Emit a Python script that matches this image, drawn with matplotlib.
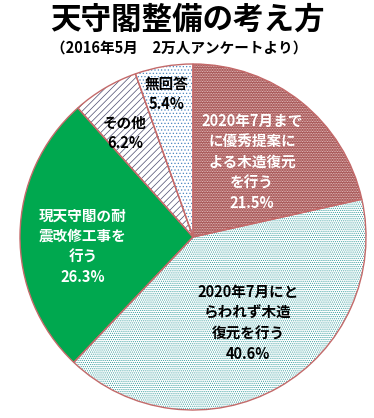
# 天守閣整備の考え方 pie chart

import matplotlib
matplotlib.use("Agg")
import matplotlib.pyplot as plt
from matplotlib.patches import Wedge

plt.rcParams['font.family'] = ['Noto Sans CJK JP', 'DejaVu Sans']
plt.rcParams['hatch.linewidth'] = 0.5

# -------------------------------
# DATA
# -------------------------------
labels = [
    "2020年7月まで\nに優秀提案に\nよる木造復元\nを行う",
    "2020年7月にと\nらわれず木造\n復元を行う",
    "現天守閣の耐\n震改修工事を\n行う",
    "その他",
    "無回答",
]
values = [21.5, 40.6, 26.3, 6.2, 5.4]

face_colors = ["#a24c4c", "#ffffff", "#00a84f", "#ffffff", "#ffffff"]
hatch_styles = ["..........", "........", None, "/////", "....."]
hatch_colors = ["#f4dede", "#2f9a9a", None, "#4a4a70", "#4a86c0"]
text_colors = ["white", "black", "white", "black", "black"]
edge_color = "#c46a6a"

# label centres in pixels (x, y from top)
label_pos = [(252, 162), (248, 323), (83, 246), (125, 133), (167, 94)]

W, H = 374, 418
cx, cy, r = 193, 237, 173

fig = plt.figure(figsize=(W / 100, H / 100), dpi=100)
ax = fig.add_axes([0, 0, 1, 1])

wedges, _ = ax.pie(values, colors=face_colors, startangle=90, counterclock=False,
                   center=(cx, H - cy), radius=r, frame=True,
                   wedgeprops=dict(edgecolor="none", linewidth=0))
ax.set_xlim(0, W)
ax.set_ylim(0, H)
ax.set_aspect("equal")
ax.axis("off")

# hatches drawn on top, then outlines
for w, hs, hc in zip(wedges, hatch_styles, hatch_colors):
    if hs:
        ax.add_patch(Wedge(w.center, w.r, w.theta1, w.theta2, fill=False,
                           hatch=hs, edgecolor=hc, linewidth=0))
for w in wedges:
    ax.add_patch(Wedge(w.center, w.r, w.theta1, w.theta2, fill=False,
                       edgecolor=edge_color, linewidth=1.0))

for lab, v, (px, py), tc in zip(labels, values, label_pos, text_colors):
    ax.text(px, H - py, f"{lab}\n{v:.1f}%", ha="center", va="center",
            fontsize=10.5, fontweight="bold", color=tc, linespacing=1.35)

fig.text(0.5, 1 - 20 / H, "天守閣整備の考え方", ha="center", va="center",
         fontsize=22, fontweight="bold")
fig.text(0.48, 1 - 48 / H, "（2016年5月　2万人アンケートより）", ha="center", va="center",
         fontsize=10.5, fontweight="bold")

fig.savefig("out.png", dpi=100)
